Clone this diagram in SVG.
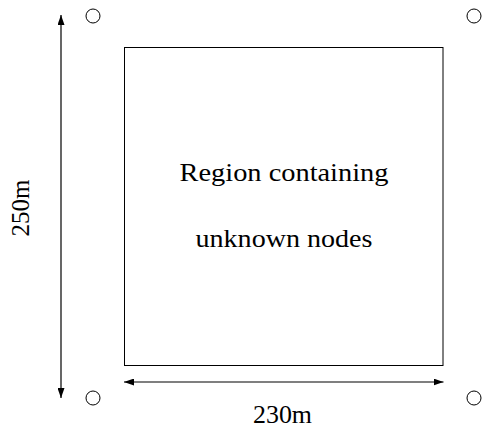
<svg xmlns="http://www.w3.org/2000/svg" width="482" height="430" viewBox="0 0 482 430">
  <style>
    .anchor { fill: #ffffff; stroke: #000000; stroke-width: 1; }
    .region { fill: #ffffff; stroke: #000000; stroke-width: 1; }
    .dim { fill: none; stroke: #000000; stroke-width: 1.2; marker-start: url(#ah); marker-end: url(#ah); }
    .lbl { font-family: "Liberation Serif", "DejaVu Serif", serif; font-size: 25px; fill: #000000; text-anchor: middle; }
  </style>
  <defs>
    <marker id="ah" viewBox="0 0 10 7" refX="10" refY="3.5" markerUnits="userSpaceOnUse" markerWidth="10" markerHeight="7" orient="auto-start-reverse">
      <path d="M0,0 L10,3.5 L0,7 z" fill="#000000"/>
    </marker>
  </defs>
  <rect width="482" height="430" fill="#ffffff"/>

  <g id="anchor-tl"><circle class="anchor" cx="93" cy="16" r="7"/></g>
  <g id="anchor-tr"><circle class="anchor" cx="474" cy="16" r="7"/></g>
  <g id="anchor-bl"><circle class="anchor" cx="93" cy="398" r="7"/></g>
  <g id="anchor-br"><circle class="anchor" cx="474" cy="398" r="7"/></g>

  <g id="region">
    <rect class="region" x="124.5" y="47.5" width="318.5" height="318"/>
    <text class="lbl" x="284" y="181" textLength="209" lengthAdjust="spacingAndGlyphs">Region containing</text>
    <text class="lbl" x="284" y="247" textLength="177" lengthAdjust="spacingAndGlyphs">unknown nodes</text>
  </g>

  <g id="connectors">
    <path class="dim" d="M61,15 L61,398"/>
    <path class="dim" d="M124,382 L443.5,382"/>
  </g>

  <g id="dim-labels">
    <text class="lbl" transform="translate(29,208) rotate(-90)" x="0" y="0" textLength="57" lengthAdjust="spacingAndGlyphs">250m</text>
    <text class="lbl" x="282.5" y="423" textLength="59" lengthAdjust="spacingAndGlyphs">230m</text>
  </g>
</svg>
